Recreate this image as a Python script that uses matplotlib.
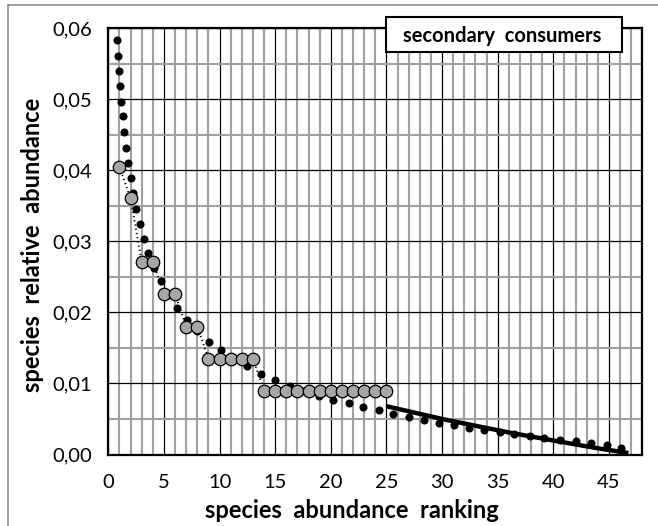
import matplotlib
matplotlib.use("Agg")
import matplotlib.pyplot as plt
from matplotlib.ticker import MultipleLocator, FuncFormatter
from matplotlib.patches import Rectangle
from matplotlib.lines import Line2D

# observed relative abundances (gray circles), ranks 1..25
obs_rank = list(range(1, 26))
obs_abund = [0.0405, 0.0361, 0.0271, 0.0271, 0.0226, 0.0226, 0.0180, 0.0180,
             0.0135, 0.0135, 0.0135, 0.0135, 0.0135,
             0.0090, 0.0090, 0.0090, 0.0090, 0.0090, 0.0090, 0.0090, 0.0090,
             0.0090, 0.0090, 0.0090, 0.0090]

# model curve (thick round-dotted black)
model_x = [0.81, 0.90, 0.96, 1.05, 1.14, 1.29, 1.41, 1.56, 1.79, 2.03, 2.24, 2.51,
           2.81, 3.20, 3.58, 4.12, 4.72, 5.40, 6.18, 7.03, 8.0, 9.02, 10.1, 11.3,
           12.5, 13.75, 15.0, 16.3, 17.6, 18.9, 20.2, 21.6, 22.9, 24.3, 25.6, 27.0,
           28.35, 29.7, 31.1, 32.4, 33.8, 35.2, 36.5, 37.9, 39.2, 40.6, 42.0, 43.4,
           44.8, 46.1]
model_y = [0.0584, 0.0561, 0.0540, 0.0519, 0.0496, 0.0476, 0.0454, 0.0432, 0.0410,
           0.0389, 0.0368, 0.0346, 0.0325, 0.0304, 0.0284, 0.0263, 0.0244, 0.0225,
           0.0206, 0.0190, 0.0174, 0.0159, 0.0147, 0.0135, 0.0124, 0.0114, 0.0105,
           0.0097, 0.0090, 0.0083, 0.0077, 0.0072, 0.0067, 0.0062, 0.0057, 0.0053,
           0.0049, 0.0045, 0.0041, 0.0038, 0.0035, 0.0032, 0.0029, 0.0026, 0.0023,
           0.0021, 0.0019, 0.0016, 0.0013, 0.0009]

# tail fit (solid black line)
tail_x = [25.0, 30.3, 36.0, 39.9, 43.9, 46.75]
tail_y = [0.0068, 0.0049, 0.0031, 0.0020, 0.0009, 0.0002]

title_text = "secondary  consumers"
xlabel_text = "species  abundance  ranking"
ylabel_text = "species  relative  abundance"

plt.rcParams['font.family'] = ['Lato', 'DejaVu Sans']

W, H = 658, 526
fig = plt.figure(figsize=(W / 100, H / 100), dpi=100)
ax = fig.add_axes([108.3 / W, 1 - 454.5 / H, (642.3 - 108.3) / W, (454.5 - 28.4) / H])

ax.set_xlim(0, 48)
ax.set_ylim(0, 0.06)
ax.xaxis.set_major_locator(MultipleLocator(5))
ax.xaxis.set_minor_locator(MultipleLocator(1))
ax.yaxis.set_major_locator(MultipleLocator(0.01))
ax.yaxis.set_minor_locator(MultipleLocator(0.005))
ax.grid(which='minor', color='#a0a0a0', linewidth=1.5, zorder=0)
ax.grid(which='major', color='black', linewidth=0.9, zorder=0.5)
ax.set_axisbelow(True)
ax.tick_params(which='both', length=0, labelsize=14.5)
ax.tick_params(axis='y', pad=12)
ax.tick_params(axis='x', pad=14)
ax.yaxis.set_major_formatter(FuncFormatter(lambda v, p: f"{v:.2f}".replace('.', ',')))
ax.xaxis.set_major_formatter(FuncFormatter(lambda v, p: f"{v:.0f}" if v < 47.5 else ""))
for s in ax.spines.values():
    s.set_linewidth(1.6)
    s.set_color('black')

ax.plot(model_x, model_y, linestyle='none', marker='o', markersize=4.8,
        color='black', zorder=2)
ax.plot(tail_x, tail_y, color='black', linewidth=3.2, solid_capstyle='butt', zorder=3)
ax.plot(obs_rank, obs_abund, color='black', linewidth=1.4, linestyle=(0, (0.6, 1.6)),
        zorder=3)
ax.plot(obs_rank, obs_abund, linestyle='none', marker='o', markersize=9,
        markerfacecolor='#a6a6a6', markeredgecolor='black', markeredgewidth=0.9,
        zorder=4)

fig.text(352 / W, 1 - 510 / H, xlabel_text, ha='center', va='center', fontsize=17,
         fontweight='bold')
fig.text(33 / W, 1 - 245 / H, ylabel_text, ha='center', va='center', fontsize=17,
         fontweight='bold', rotation=90)

# title box
fig.patches.append(Rectangle((386 / W, 1 - 52 / H), (622 - 386) / W, 35 / H,
                             transform=fig.transFigure, facecolor='white',
                             edgecolor='black', linewidth=1.5, zorder=10))
fig.text(502 / W, 1 - 36 / H, title_text, ha='center', va='center', fontsize=14.5,
         fontweight='bold', zorder=11)

# outer frame (left/top visible)
fig.add_artist(Line2D([8 / W, 8 / W], [0, 1 - 5 / H], transform=fig.transFigure,
                      color='#8c8c8c', linewidth=1.2))
fig.add_artist(Line2D([8 / W, 1], [1 - 5 / H, 1 - 5 / H], transform=fig.transFigure,
                      color='#8c8c8c', linewidth=1.2))

fig.savefig("out.png", dpi=100)
